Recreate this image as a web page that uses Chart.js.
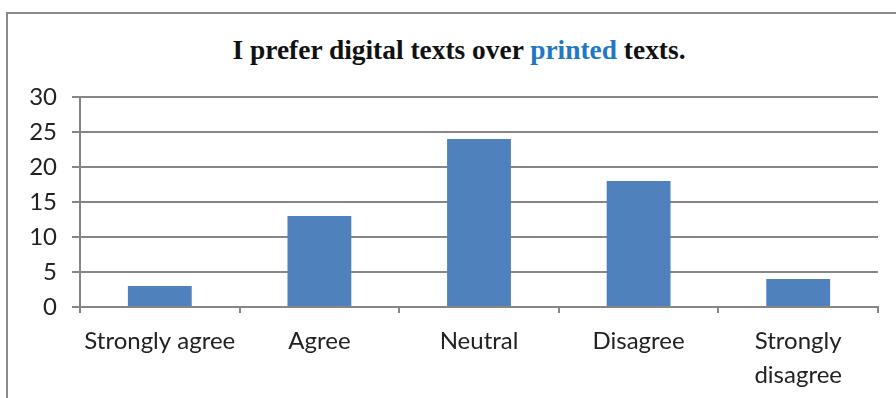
<!DOCTYPE html>
<html>
<head>
<meta charset="utf-8">
<script src="https://cdn.jsdelivr.net/npm/chart.js@4.4.1/dist/chart.umd.min.js"></script>
<style>
  html, body { margin: 0; padding: 0; background: #fff; overflow: hidden; }
  #wrap { position: relative; width: 896px; height: 398px; }
  #frame { position: absolute; left: 6px; top: 12px; width: 900px; height: 400px; border: 2px solid #8a8a8a; box-sizing: border-box; }
  #title { position: absolute; left: 0; top: 35px; width: 918px; text-align: center; white-space: nowrap;
           font: bold 27px "Liberation Serif", "Times New Roman", serif; color: #111; transform-origin: 50% 50%; }
  #title span { color: #1f78c4; }
  #chart { position: absolute; left: 0; top: 0; }
</style>
</head>
<body>
<div id="wrap">
  <div id="frame"></div>
  <div id="title">I prefer digital texts over <span>printed</span> texts.</div>
  <canvas id="chart" width="896" height="398"></canvas>
</div>
<script>
// respuestas por categoria
const categorias = ['Strongly agree', 'Agree', 'Neutral', 'Disagree', ['Strongly', 'disagree']];
const respuestas = [3, 13, 24, 18, 4];
const yMax = 30, yPaso = 5;

const gris = '#868686';
const fuenteEje = { family: 'Lato, "Open Sans", sans-serif', size: 24, lineHeight: 1.42 };

// titulo estrecho: se comprime hasta el ancho deseado
(() => {
    const t = document.getElementById('title');
    const c = document.createElement('canvas').getContext('2d');
    c.font = 'bold 27px "Liberation Serif"';
    const w = c.measureText(t.textContent).width;
    t.style.transform = 'scaleX(' + (454 / w) + ')';
})();

new Chart(document.getElementById('chart'), {
    type: 'bar',
    data: {
        labels: categorias,
        datasets: [{ data: respuestas, backgroundColor: '#4f81bd', barPercentage: 0.4, categoryPercentage: 1.0 }]
    },
    options: {
        responsive: false,
        animation: false,
        layout: { padding: { left: 0, top: 97, right: 18, bottom: 0 } },
        plugins: { legend: { display: false }, tooltip: { enabled: false }, title: { display: false } },
        scales: {
            x: {
                offset: true,
                grid: { offset: true, drawOnChartArea: false, drawTicks: true, tickLength: 6, color: gris, lineWidth: 2 },
                border: { color: gris, width: 2 },
                ticks: { color: '#222', font: fuenteEje, padding: 11, maxRotation: 0, autoSkip: false },
                afterFit: s => { s.height = 91; }
            },
            y: {
                min: 0, max: yMax,
                grid: { color: gris, lineWidth: 2, tickLength: 8 },
                border: { color: gris, width: 2 },
                ticks: { stepSize: yPaso, color: '#222', font: fuenteEje, padding: 15, autoSkip: false },
                afterFit: s => { s.width = 80; }
            }
        }
    }
});
</script>
</body>
</html>
